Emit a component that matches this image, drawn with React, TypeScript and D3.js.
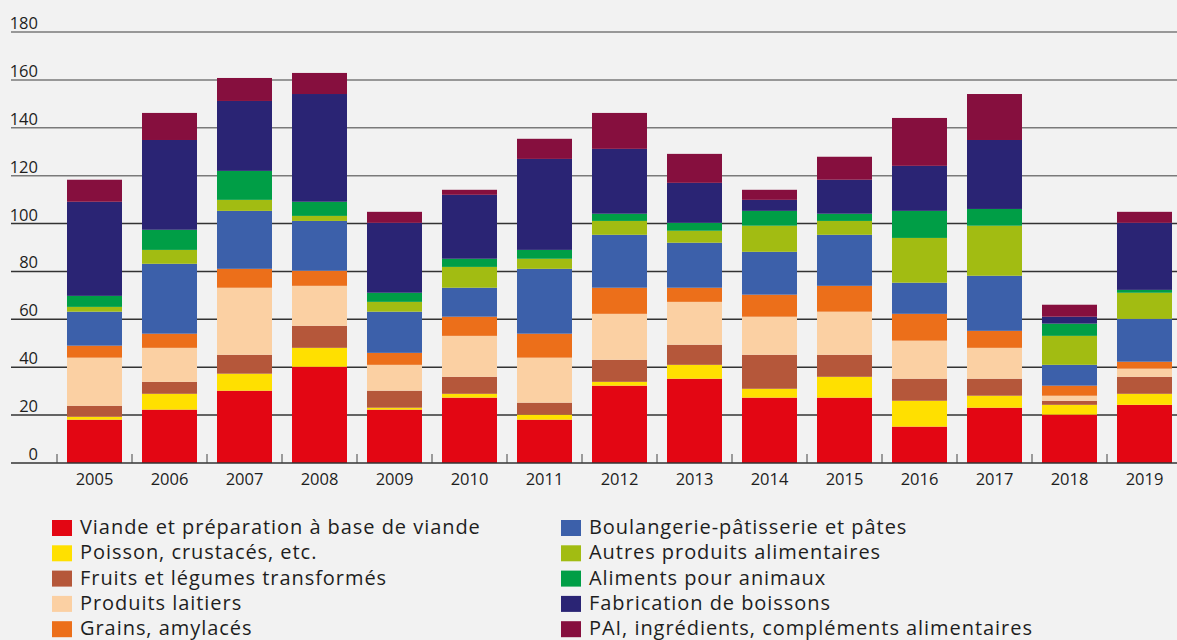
import React, { useRef, useEffect } from "react";
import * as d3 from "d3";

const years = ["2005", "2006", "2007", "2008", "2009", "2010", "2011", "2012", "2013", "2014", "2015", "2016", "2017", "2018", "2019"];

const series = [
  "Viande et préparation à base de viande",
  "Poisson, crustacés, etc.",
  "Fruits et légumes transformés",
  "Produits laitiers",
  "Grains, amylacés",
  "Boulangerie-pâtisserie et pâtes",
  "Autres produits alimentaires",
  "Aliments pour animaux",
  "Fabrication de boissons",
  "PAI, ingrédients, compléments alimentaires",
];

const colors = ["#e30613", "#ffe000", "#b5573a", "#fbd0a3", "#ec6f1a", "#3c60aa", "#a2bc12", "#009e46", "#2a2474", "#860f3e"];

// one array per series, values per year 2005..2019
const viande = [18.1, 22.3, 30.2, 40.2, 22.3, 27.3, 18.1, 32.3, 35.2, 27.3, 27.3, 15.2, 23.1, 20.2, 24.3];
const poisson = [1.2, 6.6, 7.1, 7.9, 0.8, 1.6, 2.1, 1.6, 5.8, 3.7, 8.7, 10.8, 5.0, 4.1, 4.6];
const fruits = [4.6, 5.0, 7.9, 9.2, 7.1, 7.1, 5.0, 9.2, 8.4, 14.2, 9.2, 9.2, 7.1, 1.7, 7.1];
const laitiers = [20.1, 14.2, 28.0, 16.7, 10.8, 17.1, 18.8, 19.2, 17.9, 15.9, 18.0, 15.9, 12.9, 2.1, 3.4];
const grains = [5.0, 5.9, 7.9, 6.3, 5.0, 8.0, 10.0, 10.9, 5.9, 9.2, 10.8, 11.2, 7.1, 4.2, 2.9];
const boulangerie = [14.2, 29.2, 24.2, 20.8, 17.2, 12.1, 27.1, 22.1, 18.8, 17.9, 21.3, 13.0, 23.0, 8.7, 17.9];
const autres = [2.0, 5.8, 4.6, 2.1, 4.1, 8.7, 4.2, 5.8, 5.0, 10.9, 5.8, 18.7, 20.9, 12.1, 10.9];
const animaux = [4.6, 8.4, 12.1, 5.9, 3.8, 3.4, 3.7, 3.0, 3.3, 6.2, 3.0, 11.3, 7.0, 5.1, 1.2];
const boissons = [39.3, 37.5, 29.2, 45.0, 29.2, 26.7, 38.0, 27.1, 16.7, 4.6, 14.2, 18.8, 28.8, 2.9, 28.0];
const pai = [9.2, 11.3, 9.6, 8.8, 4.6, 2.1, 8.4, 15.0, 12.1, 4.2, 9.6, 20.0, 19.2, 5.0, 4.6];

const values = [viande, poisson, fruits, laitiers, grains, boulangerie, autres, animaux, boissons, pai];
const yTicks = [0, 20, 40, 60, 80, 100, 120, 140, 160, 180];

const W = 1177;
const H = 640;
const FONT = "'Open Sans', sans-serif";

const App = () => {
  const ref = useRef<SVGSVGElement>(null);

  useEffect(() => {
    const svg = d3.select(ref.current);
    svg.selectAll("*").remove();

    svg.append("rect").attr("width", W).attr("height", H).attr("fill", "#f2f2f2");

    const x = d3
      .scaleBand()
      .domain(years)
      .range([57, 1182])
      .paddingInner(20 / 75)
      .paddingOuter(10 / 75);

    const y = d3.scaleLinear().domain([0, 180]).range([463, 32]);

    // gridlines + y labels
    svg
      .append("g")
      .selectAll("line")
      .data(yTicks.filter((t) => t > 0))
      .join("line")
      .attr("x1", 11)
      .attr("x2", W)
      .attr("y1", (d) => y(d))
      .attr("y2", (d) => y(d))
      .attr("stroke", (d) => (d >= 120 ? "#7a7a7a" : "#333"))
      .attr("stroke-width", 1.5);

    svg
      .append("g")
      .selectAll("text")
      .data(yTicks)
      .join("text")
      .attr("x", 38)
      .attr("y", (d) => y(d) - 3)
      .attr("text-anchor", "end")
      .attr("font-family", FONT)
      .attr("font-size", 16.5)
      .attr("fill", "#1e1e1e")
      .text((d) => d);

    // stacked bars
    const table = years.map((yr, i) => {
      const row: any = { year: yr };
      series.forEach((s, k) => (row[s] = values[k][i]));
      return row;
    });
    const stacked = d3.stack().keys(series)(table);

    svg
      .append("g")
      .selectAll("g")
      .data(stacked)
      .join("g")
      .attr("fill", (_, k) => colors[k])
      .selectAll("rect")
      .data((d) => d)
      .join("rect")
      .attr("x", (d: any) => x(d.data.year)!)
      .attr("width", x.bandwidth())
      .attr("y", (d) => y(d[1]))
      .attr("height", (d) => y(d[0]) - y(d[1]));

    // x axis
    svg
      .append("line")
      .attr("x1", 11)
      .attr("x2", W)
      .attr("y1", y(0))
      .attr("y2", y(0))
      .attr("stroke", "#333")
      .attr("stroke-width", 1.5);

    const gap = (x.step() - x.bandwidth()) / 2;
    svg
      .append("g")
      .selectAll("line")
      .data(years)
      .join("line")
      .attr("x1", (d) => x(d)! - gap)
      .attr("x2", (d) => x(d)! - gap)
      .attr("y1", y(0) - 9)
      .attr("y2", y(0))
      .attr("stroke", "#444")
      .attr("stroke-width", 1);

    svg
      .append("g")
      .selectAll("text")
      .data(years)
      .join("text")
      .attr("x", (d) => x(d)! + x.bandwidth() / 2)
      .attr("y", 485)
      .attr("text-anchor", "middle")
      .attr("font-family", FONT)
      .attr("font-size", 16.5)
      .attr("fill", "#1e1e1e")
      .text((d) => d);

    // legend, two columns of five
    const legend = svg
      .append("g")
      .selectAll("g")
      .data(series)
      .join("g")
      .attr("transform", (_, i) => {
        const col = Math.floor(i / 5);
        const row = i % 5;
        return `translate(${col === 0 ? 52 : 561},${528 + row * 25.3})`;
      });

    legend
      .append("rect")
      .attr("x", 0)
      .attr("y", -8)
      .attr("width", 20)
      .attr("height", 16)
      .attr("fill", (_, i) => colors[i]);

    legend
      .append("text")
      .attr("x", 28)
      .attr("y", 6)
      .attr("font-family", FONT)
      .attr("font-size", 20)
      .attr("letter-spacing", 0.95)
      .attr("fill", "#1e1e1e")
      .text((d) => d);
  }, []);

  return (
    <svg
      ref={ref}
      width={W}
      height={H}
      style={{ position: "absolute", left: 0, top: 0, display: "block" }}
    />
  );
};

export default App;
